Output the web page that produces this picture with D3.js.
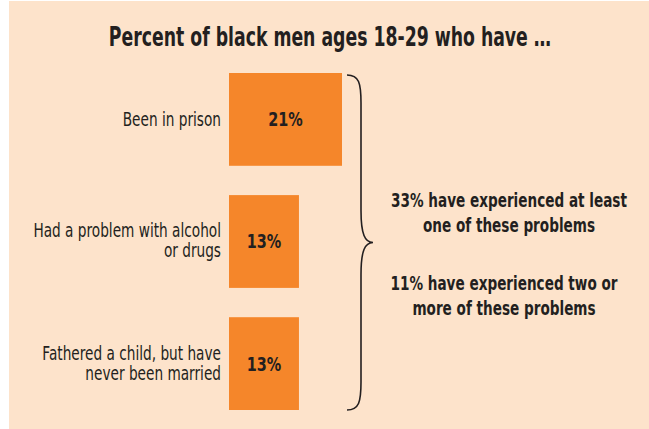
<!DOCTYPE html>
<html>
<head>
<meta charset="utf-8">
<script src="https://cdn.jsdelivr.net/npm/d3@7"></script>
<style>
  body { margin: 0; background: #fff; }
  svg text { font-family: "DejaVu Sans", sans-serif; fill: #231f20; }
</style>
</head>
<body>
<div id="chart"></div>
<script>
// data
var categories = ["Been in prison", "Had a problem with alcohol or drugs", "Fathered a child, but have never been married"];
var labelLines = [["Been in prison"], ["Had a problem with alcohol", "or drugs"], ["Fathered a child, but have", "never been married"]];
var values = [21, 13, 13];
var summaryLines = [["33% have experienced at least", "one of these problems"], ["11% have experienced two or", "more of these problems"]];
var title = "Percent of black men ages 18-29 who have \u2026";

var W = 649, H = 429;

// no condensed face installed, so squeeze text horizontally around its anchor
function squeeze(ax, k) {
    return "translate(" + ax + ",0) scale(" + k + ",1)";
}

var svg = d3.select("#chart").append("svg")
    .attr("width", W)
    .attr("height", H);

// peach panel
svg.append("rect")
    .attr("x", 9).attr("y", 1)
    .attr("width", W - 9).attr("height", H - 1)
    .attr("fill", "#fde3cb");

svg.append("text")
    .attr("transform", squeeze(330, 0.665))
    .attr("x", 0).attr("y", 46)
    .attr("text-anchor", "middle")
    .attr("font-weight", "bold")
    .attr("font-size", 26)
    .text(title);

// scales
var y = d3.scaleBand().domain(categories).range([73, 410]).paddingInner(0.24).paddingOuter(0);
var x = d3.scaleLinear().domain([0, 21]).range([229, 342]);

var rows = svg.selectAll(".row")
    .data(categories)
    .enter().append("g")
    .attr("class", "row");

rows.append("rect")
    .attr("x", x(0))
    .attr("y", function(d) { return y(d); })
    .attr("width", function(d, i) { return x(values[i]) - x(0); })
    .attr("height", y.bandwidth())
    .attr("fill", "#f5862a");

rows.append("text")
    .attr("transform", function(d, i) { return squeeze((x(0) + x(values[i])) / 2, 0.76); })
    .attr("x", 0)
    .attr("y", function(d) { return y(d) + y.bandwidth() / 2 + 7; })
    .attr("text-anchor", "middle")
    .attr("font-weight", "bold")
    .attr("font-size", 19)
    .text(function(d, i) { return values[i] + "%"; });

// category labels, right aligned against the bars
rows.each(function(d, i) {
    var lines = labelLines[i];
    var cy = y(d) + y.bandwidth() / 2;
    var first = lines.length == 1 ? cy + 7 : cy - 4;
    d3.select(this).append("text")
        .attr("transform", squeeze(x(0) - 8, 0.72))
        .attr("text-anchor", "end")
        .attr("font-size", 19)
        .selectAll("tspan")
        .data(lines)
        .enter().append("tspan")
        .attr("x", 0)
        .attr("y", function(l, j) { return first + j * 20; })
        .text(function(l) { return l; });
});

// curly brace covering all bars
var y0 = y.range()[0] + 2, y1 = y.range()[1], ym = (y0 + y1) / 2;
var bx = 347, bv = 361, tip = 373;
var brace = "M" + bx + "," + y0
    + " C" + (bv - 2) + "," + y0 + " " + bv + "," + (y0 + 8) + " " + bv + "," + (y0 + 28)
    + " L" + bv + "," + (ym - 32)
    + " C" + bv + "," + (ym - 8) + " " + (bv + 4) + "," + ym + " " + tip + "," + ym
    + " C" + (bv + 4) + "," + ym + " " + bv + "," + (ym + 8) + " " + bv + "," + (ym + 32)
    + " L" + bv + "," + (y1 - 28)
    + " C" + bv + "," + (y1 - 8) + " " + (bv - 2) + "," + y1 + " " + bx + "," + y1;
svg.append("path")
    .attr("d", brace)
    .attr("fill", "none")
    .attr("stroke", "#231f20")
    .attr("stroke-width", 1.6);

// summary notes
var notes = svg.selectAll(".note")
    .data(summaryLines)
    .enter().append("text")
    .attr("class", "note")
    .attr("transform", function(d, i) { return squeeze(i == 0 ? 509 : 504, 0.68); })
    .attr("text-anchor", "middle")
    .attr("font-weight", "bold")
    .attr("font-size", 20);

notes.selectAll("tspan")
    .data(function(d, i) { return d.map(function(l) { return {l: l, g: i}; }); })
    .enter().append("tspan")
    .attr("x", 0)
    .attr("y", function(d, j) { return (d.g == 0 ? 207 : 290) + j * 25; })
    .text(function(d) { return d.l; });
</script>
</body>
</html>
